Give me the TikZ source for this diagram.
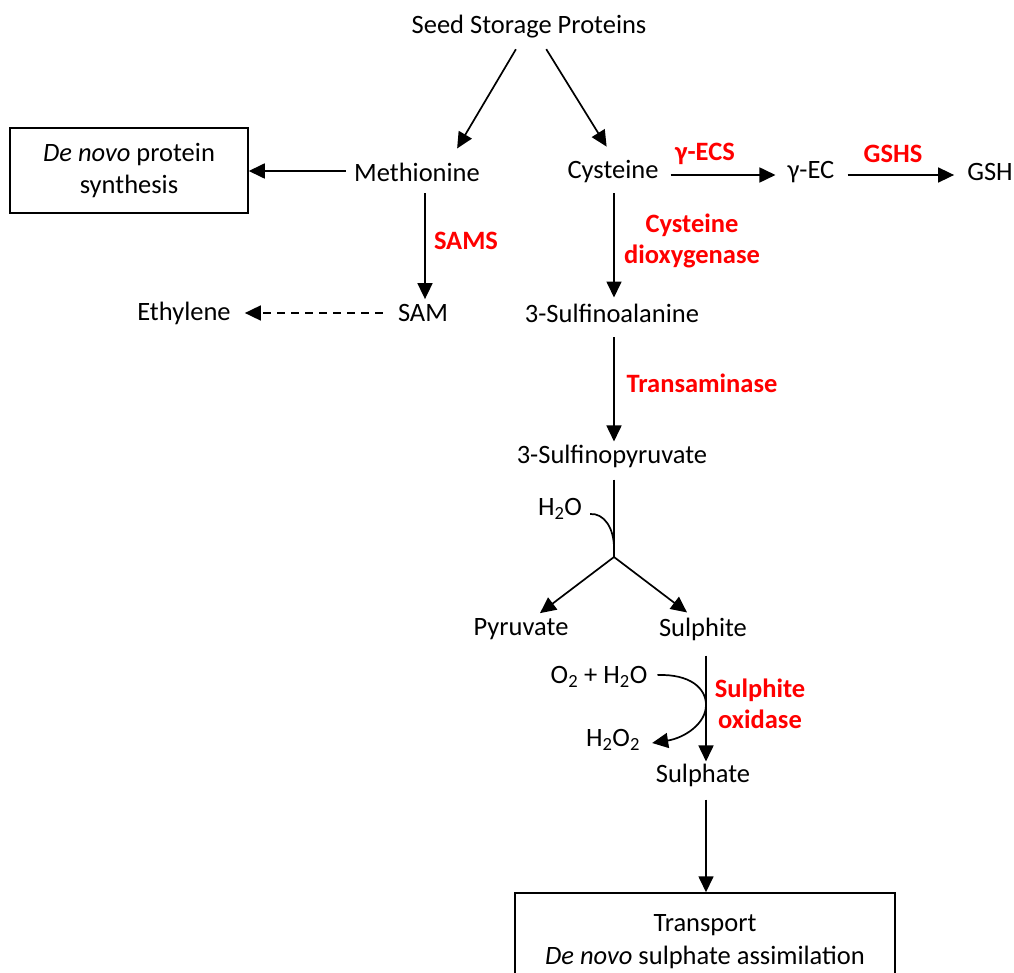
\documentclass[tikz,border=0pt]{standalone}
\usepackage{fontspec}
\setmainfont{Carlito}
\usetikzlibrary{arrows.meta}
\begin{document}
\begin{tikzpicture}[x=1pt,y=-1pt,
  lab/.style={font=\fontsize{26.5}{32.5}\selectfont, inner sep=2pt, align=center},
  enz/.style={inner sep=2pt, align=center, text=red, font=\fontsize{26.5}{31}\selectfont\bfseries},
  box/.style={lab, draw, line width=1.5pt},
  ln/.style={line width=1.7pt},
  arr/.style={ln, -{Triangle[length=16pt,width=15pt]}}]
\useasboundingbox (0,0) rectangle (1014,973);
\clip (0,0) rectangle (1014,973);
% nodes
\node[lab] (seed) at (529,27) {Seed Storage Proteins};
\node[lab] (met) at (417,172) {Methionine};
\node[lab] (cys) at (613,172) {Cysteine};
\node[lab] (gec) at (811,172) {γ-EC};
\node[lab] (gsh) at (990,172) {GSH};
\node[box, minimum width=238pt, minimum height=85pt] (dnp) at (129,170.5) {\textit{De novo} protein\\synthesis};
\node[lab] (sam) at (423,313) {SAM};
\node[lab] (eth) at (184,313) {Ethylene};
\node[lab] (sfa) at (612,313) {3-Sulfinoalanine};
\node[lab] (sfp) at (612,456) {3-Sulfinopyruvate};
\node[lab] (h2o) at (560,509) {H\textsubscript{2}O};
\node[lab] (pyr) at (521,629) {Pyruvate};
\node[lab] (sul) at (703,629) {Sulphite};
\node[lab] (o2) at (599,677) {O\textsubscript{2} + H\textsubscript{2}O};
\node[lab] (h2o2) at (613,740) {H\textsubscript{2}O\textsubscript{2}};
\node[lab] (sph) at (703,775) {Sulphate};
\node[box, minimum width=380pt, minimum height=97pt] (tr) at (705,941.5) {Transport\\\textit{De novo} sulphate assimilation};
% enzymes
\node[enz] (gecs) at (705,154) {γ-ECS};
\node[enz] (gshs) at (893,154) {GSHS};
\node[enz] (sams) at (466,241) {SAMS};
\node[enz] (cdo) at (692,241) {Cysteine\\dioxygenase};
\node[enz] (ta) at (702,383) {Transaminase};
\node[enz] (so) at (760,704) {Sulphite\\oxidase};
% coordinates
\coordinate (j) at (614,557);
\coordinate (hj) at (614,548);
\coordinate (ox) at (706,705);
% connectors
\draw[arr, shorten <=10pt, shorten >=14pt] ([xshift=-8pt]seed.south) -- ([xshift=33pt]met.north);
\draw[arr, shorten <=10pt, shorten >=14pt] ([xshift=12pt]seed.south) -- ([xshift=1pt]cys.north);
\draw[arr, shorten <=6pt] ([yshift=1pt]met.west) -- ([yshift=1pt]met.west -| dnp.east);
\draw[arr, shorten <=10pt, shorten >=3pt] ([xshift=2pt]met.south -| sam.north) -- ([xshift=2pt]sam.north);
\draw[arr, dash pattern=on 8pt off 6pt, shorten <=13pt, shorten >=12pt] (sam.west) -- (eth.east);
\draw[arr, shorten <=10pt, shorten >=10pt] ([yshift=-3pt]cys.east) -- ([yshift=-3pt]gec.west);
\draw[arr, shorten <=11pt, shorten >=11pt] ([yshift=-3pt]gec.east) -- ([yshift=-3pt]gsh.west);
\draw[arr, shorten <=8pt, shorten >=4pt] ([xshift=1pt]cys.south) -- ([xshift=1pt]cys.south |- sfa.north);
\draw[arr, shorten <=13pt, shorten >=1pt] ([xshift=2pt]sfa.south) -- ([xshift=2pt]sfa.south |- sfp.north);
\draw[ln, shorten <=10pt] ([xshift=2pt]sfp.south) -- (j);
\draw[arr, shorten >=5pt] (j) -- ([xshift=15pt]pyr.north);
\draw[arr, shorten >=5pt] (j) -- ([xshift=-12pt]sul.north);
\draw[ln] ([xshift=6pt,yshift=-5pt]h2o.east) .. controls (604,513) and (614,528) .. (hj);
\draw[arr, shorten <=13pt] ([xshift=3pt]sul.south) -- ([xshift=3pt]sul.south |- sph.north);
\draw[arr, shorten <=11pt] ([xshift=3pt]sph.south) -- ([xshift=3pt]sph.south |- tr.north);
\draw[ln] ([xshift=8pt,yshift=2pt]o2.east) .. controls (690,674) and (706,688) .. (ox);
\draw[arr] (ox) .. controls (706,724) and (684,738) .. ([xshift=10pt,yshift=-3pt]h2o2.east);
\end{tikzpicture}
\end{document}
